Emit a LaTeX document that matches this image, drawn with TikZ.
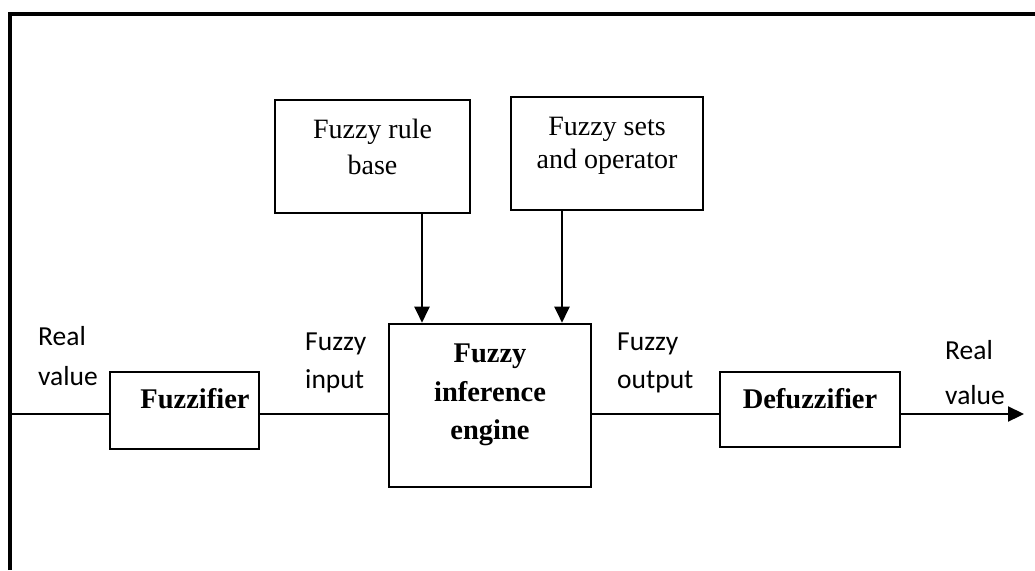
\documentclass[tikz,border=0pt]{standalone}
\usepackage{fontspec}
\setmainfont{Liberation Serif}
\newfontfamily\labelfont{Carlito}
\usetikzlibrary{arrows.meta}
\tikzset{
  blk/.style={draw=black, line width=2.6pt, minimum width=#1, inner sep=0pt},
  boxtxt/.style={anchor=base, font=\fontsize{28}{32}\selectfont, inner sep=0pt},
  boldtxt/.style={anchor=base, font=\fontsize{28.5}{32}\selectfont\bfseries, inner sep=0pt},
  lbl/.style={anchor=base west, font=\labelfont\fontsize{27.5}{30}\selectfont, inner sep=0pt},
  conn/.style={line width=2.2pt},
  arr/.style={line width=2.2pt, -{Triangle[length=16pt, width=15pt]}},
}
\begin{document}
\begin{tikzpicture}[x=1pt, y=-1pt]
\useasboundingbox (0,0) rectangle (1035,570);
% outer frame (top and left edges)
\draw[line width=4pt, line join=miter] (10,570) -- (10,14) -- (1035,14);

% boxes
\node[blk=195pt, minimum height=113pt] (rb) at (372.5,156.5) {};
\node[blk=192pt, minimum height=113pt] (fs) at (607,153.5) {};
\node[blk=149pt, minimum height=77pt] (fz) at (184.5,410.5) {};
\node[blk=202pt, minimum height=163pt] (eng) at (490,405.5) {};
\node[blk=180pt, minimum height=75pt] (dfz) at (810,409.5) {};

% box texts
\node[boxtxt] (rbt1) at (372.5,138) {Fuzzy rule};
\node[boxtxt] (rbt2) at (372.5,174) {base};
\node[boxtxt] (fst1) at (607,135) {Fuzzy sets};
\node[boxtxt] (fst2) at (607,168) {and operator};
\node[boldtxt] (fzt) at (195,408) {Fuzzifier};
\node[boldtxt] (engt1) at (490,362) {Fuzzy};
\node[boldtxt] (engt2) at (490,401) {inference};
\node[boldtxt] (engt3) at (490,439) {engine};
\node[boldtxt] (dfzt) at (810,408) {Defuzzifier};

% signal labels
\node[lbl] (l1) at (38,345) {Real};
\node[lbl] (l2) at (38,385) {value};
\node[lbl] (l3) at (305,350) {Fuzzy};
\node[lbl] (l4) at (305,388) {input};
\node[lbl] (l5) at (617,350) {Fuzzy};
\node[lbl] (l6) at (617,388) {output};
\node[lbl] (l7) at (945,359) {Real};
\node[lbl] (l8) at (945,404) {value};

% connectors
\coordinate (in) at (10,414);
\coordinate (out) at (1024,414);
\coordinate (a1) at (422,0);
\coordinate (a2) at (562,0);
\draw[conn] (in) -- (fz.west |- in);
\draw[conn] (fz.east |- in) -- (eng.west |- in);
\draw[conn] (eng.east |- in) -- (dfz.west |- in);
\draw[arr] (dfz.east |- in) -- (out);
\draw[arr] (rb.south -| a1) -- (eng.north -| a1);
\draw[arr] (fs.south -| a2) -- (eng.north -| a2);
\end{tikzpicture}
\end{document}
